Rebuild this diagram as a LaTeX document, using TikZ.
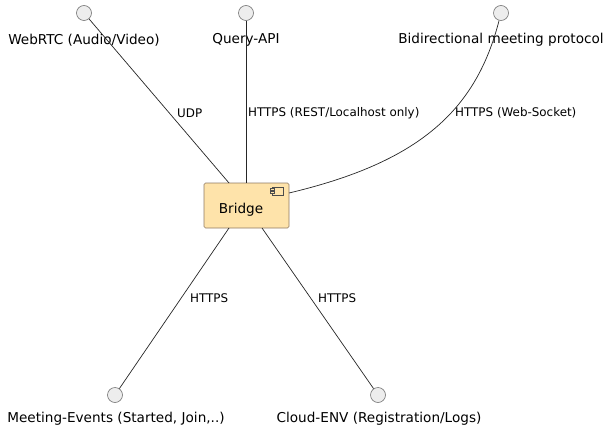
\documentclass[tikz,border=0pt]{standalone}
\usepackage{fontspec}
\setmainfont{DejaVu Sans}
\begin{document}
\begin{tikzpicture}[x=1pt,y=-1pt,
  iface/.style={circle,draw=black!55,fill=black!7,line width=0.6pt,minimum size=15pt,inner sep=0pt},
  elabel/.style={font=\fontsize{13.6}{15}\selectfont,inner sep=0pt},
  clabel/.style={font=\fontsize{11.9}{13}\selectfont,inner sep=0pt,anchor=west},
  conn/.style={draw=black!85,line width=0.7pt},
  comp/.style={draw=brown!50!black!70,fill=bridgefill,rounded corners=1.5pt,line width=0.6pt,minimum width=85pt,minimum height=45pt,inner sep=0pt}
]
\definecolor{bridgefill}{HTML}{FEE3AA}
\useasboundingbox (0,0) rectangle (609,433);
\node[iface] (w) at (84,13) {};
\node[iface] (q) at (246,13) {};
\node[iface] (b) at (501,13) {};
\node[iface] (m) at (115,395) {};
\node[iface] (c) at (378,395) {};
\node[elabel] (wl) at (84,40) {WebRTC (Audio/Video)};
\node[elabel] (ql) at (246,40) {Query-API};
\node[elabel] (bl) at (501,40) {Bidirectional meeting protocol};
\node[elabel] (ml) at (116,419) {Meeting-Events (Started, Join,..)};
\node[elabel] (cl) at (379,419) {Cloud-ENV (Registration/Logs)};
\node[comp] (br) at (246.5,205.5) {};
\node[font=\fontsize{13.6}{15}\selectfont,inner sep=0pt] (brt) at (241,210) {Bridge};
% component icon
\draw[black!70,line width=0.5pt,fill=bridgefill] (272,187) rectangle (283,195);
\draw[black!70,line width=0.5pt,fill=bridgefill] (270,188.5) rectangle (274,190.5);
\draw[black!70,line width=0.5pt,fill=bridgefill] (270,191.5) rectangle (274,193.5);
\coordinate (e1) at (229,183);
\coordinate (e3) at (289,193);
\coordinate (e4) at (229,228);
\coordinate (e5) at (262,228);
\draw[conn] (w) -- (e1);
\draw[conn] (q) -- (br.north -| q);
\draw[conn] (b) .. controls (476,110) and (420,162) .. (e3);
\draw[conn] (e4) -- (m);
\draw[conn] (e5) -- (c);
\node[clabel] (l1) at (177,113) {UDP};
\node[clabel] (l2) at (248,113) {HTTPS (REST/Localhost only)};
\node[clabel] (l3) at (455,113) {HTTPS (Web-Socket)};
\node[clabel] (l4) at (190,298) {HTTPS};
\node[clabel] (l5) at (318,298) {HTTPS};
\end{tikzpicture}
\end{document}
